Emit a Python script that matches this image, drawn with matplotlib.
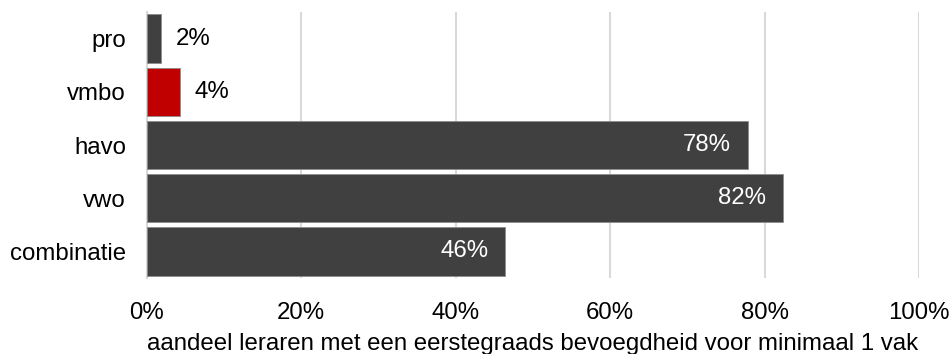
import matplotlib
matplotlib.use("Agg")
from matplotlib import pyplot as plt
import numpy as np

plt.rcParams['font.family'] = ['Liberation Sans', 'DejaVu Sans']

# data
categories = ['pro', 'vmbo', 'havo', 'vwo', 'combinatie']
values = [1.9, 4.3, 77.8, 82.4, 46.4]
labels = ['2%', '4%', '78%', '82%', '46%']
colors = ['#404040', '#c00000', '#404040', '#404040', '#404040']
xticks = [0, 20, 40, 60, 80, 100]
xlabel = 'aandeel leraren met een eerstegraads bevoegdheid voor minimaal 1 vak'

fs = 17.3

fig = plt.figure(figsize=(9.51, 3.54), dpi=100)
ax = fig.add_axes([146.5 / 951, 1 - 278 / 354, (919 - 146.5) / 951, 266 / 354])

ind = np.arange(len(categories))
ax.barh(ind, values, height=0.91, color=colors, edgecolor='#8c8c8c', linewidth=0.6, zorder=3)

for i, (v, lab) in enumerate(zip(values, labels)):
    if v < 10:
        ax.text(v + 1.95, i, lab, va='center', ha='left', fontsize=fs, color='black')
    else:
        ax.text(v - 2.15, i, lab, va='center', ha='right', fontsize=fs, color='white')

ax.set_xlim(0, 100)
ax.set_ylim(len(categories) - 0.5, -0.5)
ax.set_yticks(ind)
ax.set_yticklabels(categories, fontsize=fs)
ax.set_xticks(xticks)
ax.set_xticklabels([str(t) + '%' for t in xticks], fontsize=fs)
ax.tick_params(axis='both', length=0)
ax.tick_params(axis='y', pad=14.8)
ax.tick_params(axis='x', pad=17)
ax.set_xlabel(xlabel, fontsize=fs, labelpad=6.5)

ax.grid(axis='x', color='#d9d9d9', linewidth=1.5, zorder=0)
for s in ['top', 'right', 'bottom']:
    ax.spines[s].set_visible(False)
ax.spines['left'].set_color('#d9d9d9')
ax.spines['left'].set_linewidth(1.5)

plt.savefig('out.png', dpi=100)
